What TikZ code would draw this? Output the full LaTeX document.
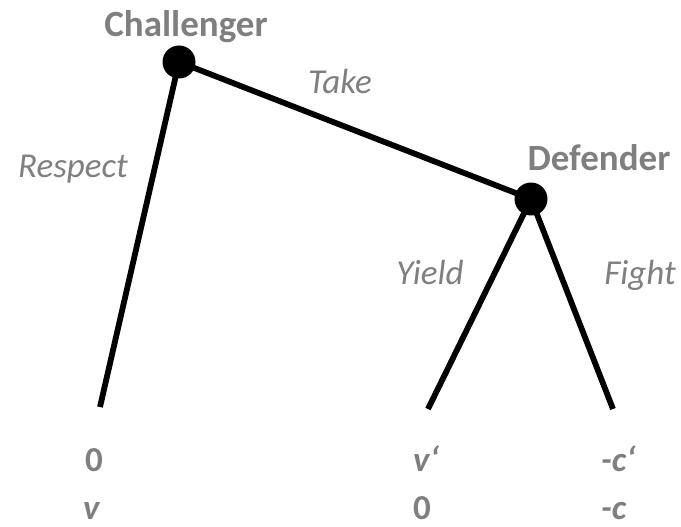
\documentclass[tikz,border=0pt]{standalone}
\usepackage{fontspec}
\setmainfont{Carlito}
\definecolor{labelgrey}{HTML}{7F7F7F}
\begin{document}
\begin{tikzpicture}[x=1pt,y=-1pt,
  decision/.style={circle,fill=black,minimum size=33pt,inner sep=0pt},
  branch/.style={line width=5.8pt},
  player/.style={text=labelgrey,anchor=base,inner sep=0pt,font=\fontsize{37}{40}\selectfont\bfseries},
  move/.style={text=labelgrey,anchor=base,inner sep=0pt,font=\fontsize{35}{40}\selectfont\itshape},
  payoff/.style={text=labelgrey,anchor=base west,inner sep=0pt,font=\fontsize{35}{40}\selectfont\bfseries}]
\useasboundingbox (0,0) rectangle (681,527);
% decision nodes and terminal points
\node[decision] (c) at (179,62) {};
\node[decision] (d) at (531,199) {};
\coordinate (r) at (100,407);
\coordinate (y) at (428,409);
\coordinate (f) at (613,409);
% branches
\draw[branch] (c.center) -- (d.center);
\draw[branch] (c.center) -- (r);
\draw[branch] (d.center) -- (y);
\draw[branch] (d.center) -- (f);
% players
\node[player] (lc) at (186,37) {Challenger};
\node[player] (ld) at (599,170) {Defender};
% moves
\node[move] (lt) at (340,94) {Take};
\node[move] (lr) at (73,178) {Respect};
\node[move] (ly) at (430,284) {Yield};
\node[move] (lf) at (640,284) {Fight};
% payoffs
\node[payoff] (p1a) at (85,471) {0};
\node[payoff] (p1b) at (83,519) {\itshape v};
\node[payoff] (p2a) at (413,471) {\itshape v‘};
\node[payoff] (p2b) at (413,519) {0};
\node[payoff] (p3a) at (601,471) {\itshape -c‘};
\node[payoff] (p3b) at (601,519) {\itshape -c};
\end{tikzpicture}
\end{document}
